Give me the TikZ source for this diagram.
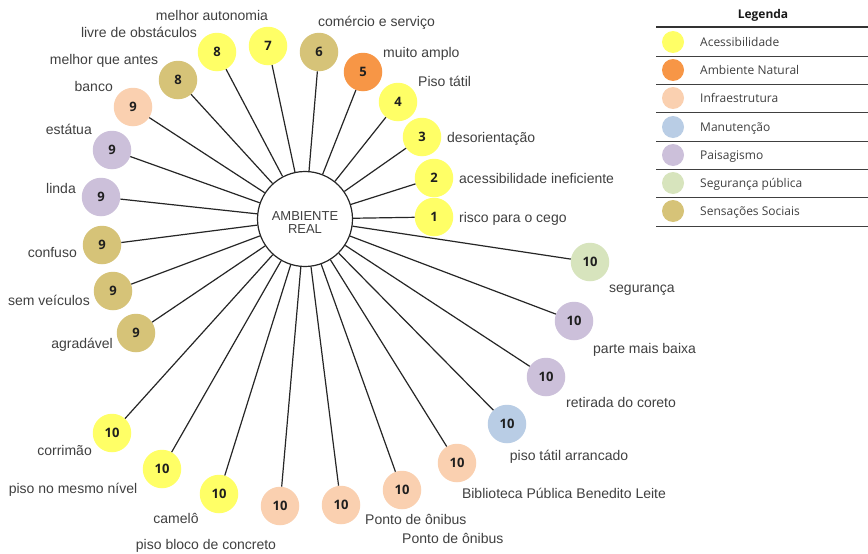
\documentclass[tikz,border=0pt]{standalone}
\usepackage{fontspec}
\setmainfont{Liberation Sans}
\newfontfamily\osans{Open Sans}
\definecolor{acc}{HTML}{FFFF66}
\definecolor{nat}{HTML}{F79646}
\definecolor{inf}{HTML}{FAD0B0}
\definecolor{man}{HTML}{B9CDE5}
\definecolor{pai}{HTML}{CCC0DA}
\definecolor{seg}{HTML}{D7E4BD}
\definecolor{soc}{HTML}{D6C378}
\definecolor{txt}{HTML}{404040}
\begin{document}
\begin{tikzpicture}[x=1pt,y=-1pt,
  cat/.style={circle,minimum size=38.5pt,inner sep=0pt,font=\osans\bfseries\fontsize{13}{13}\selectfont,text=black!88},
  lab/.style={inner sep=0pt,font=\fontsize{14}{16}\selectfont,text=txt},
  spoke/.style={draw=black!85,line width=1.2pt},
  legdot/.style={circle,minimum size=22pt,inner sep=0pt},
  legtxt/.style={inner sep=0pt,anchor=base west,font=\osans\fontsize{12}{14}\selectfont,text=txt},
  legrule/.style={draw=black!75,line width=0.9pt}]
\useasboundingbox (0,0) rectangle (868,554);
\fill[white] (0,0) rectangle (868,554);

% centre
\node[circle,draw=black!85,line width=1.2pt,minimum size=95pt,inner sep=0pt] (c) at (305,219) {};
\node[inner sep=0pt,align=center,font=\fontsize{13}{13}\selectfont,text=txt] (ct) at (305,223) {AMBIENTE\\REAL};

% category circles
\node[cat,fill=acc] (n1) at (434,217) {1};
\node[cat,fill=acc] (n2) at (434,178) {2};
\node[cat,fill=acc] (n3) at (422,137) {3};
\node[cat,fill=acc] (n4) at (398,102) {4};
\node[cat,fill=nat] (n5) at (363,72) {5};
\node[cat,fill=soc] (n6) at (319,52) {6};
\node[cat,fill=acc] (n7) at (268,46) {7};
\node[cat,fill=acc] (n8a) at (217,52) {8};
\node[cat,fill=soc] (n8b) at (178,80) {8};
\node[cat,fill=inf] (n9a) at (133,107) {9};
\node[cat,fill=pai] (n9b) at (112,150) {9};
\node[cat,fill=pai] (n9c) at (101,197) {9};
\node[cat,fill=soc] (n9d) at (102,245) {9};
\node[cat,fill=soc] (n9e) at (113,291) {9};
\node[cat,fill=soc] (n9f) at (136,333) {9};
\node[cat,fill=acc] (n10a) at (112,433) {10};
\node[cat,fill=acc] (n10b) at (162,469) {10};
\node[cat,fill=acc] (n10c) at (219,494) {10};
\node[cat,fill=inf] (n10d) at (280,506) {10};
\node[cat,fill=inf] (n10e) at (341,505) {10};
\node[cat,fill=inf] (n10f) at (402,490) {10};
\node[cat,fill=inf] (n10g) at (457,463) {10};
\node[cat,fill=man] (n10h) at (507,424) {10};
\node[cat,fill=pai] (n10i) at (546,377) {10};
\node[cat,fill=pai] (n10j) at (574,321) {10};
\node[cat,fill=seg] (n10k) at (590,262) {10};

\foreach \n in {n1,n2,n3,n4,n5,n6,n7,n8a,n8b,n9a,n9b,n9c,n9d,n9e,n9f,
  n10a,n10b,n10c,n10d,n10e,n10f,n10g,n10h,n10i,n10j,n10k}
  \draw[spoke] (c) -- (\n);

% labels
\node[lab,anchor=base west] (l1) at (459,222) {risco para o cego};
\node[lab,anchor=base west] (l2) at (459,183) {acessibilidade ineficiente};
\node[lab,anchor=base west] (l3) at (447,142) {desorientação};
\node[lab,anchor=base west] (l4) at (418,86) {Piso tátil};
\node[lab,anchor=base west] (l5) at (383,57) {muito amplo};
\node[lab,anchor=base west] (l6) at (318,27) {comércio e serviço};
\node[lab,anchor=base] (l7) at (212,20) {melhor autonomia};
\node[lab,anchor=base] (l8a) at (139,37) {livre de obstáculos};
\node[lab,anchor=base] (l8b) at (104,64) {melhor que antes};
\node[lab,anchor=base east] (l9a) at (113,91) {banco};
\node[lab,anchor=base east] (l9b) at (92,134) {estátua};
\node[lab,anchor=base east] (l9c) at (76,193) {linda};
\node[lab,anchor=base east] (l9d) at (77,257) {confuso};
\node[lab,anchor=base east] (l9e) at (90,305) {sem veículos};
\node[lab,anchor=base east] (l9f) at (113,348) {agradável};
\node[lab,anchor=base east] (l10a) at (92,455) {corrimão};
\node[lab,anchor=base] (l10b) at (73,493) {piso no mesmo nível};
\node[lab,anchor=base] (l10c) at (176,523) {camelô};
\node[lab,anchor=base] (l10d) at (206,549) {piso bloco de concreto};
\node[lab,anchor=base west] (l10e) at (365,524) {Ponto de ônibus};
\node[lab,anchor=base west] (l10f) at (402,543) {Ponto de ônibus};
\node[lab,anchor=base] (l10g) at (564,498) {Biblioteca Pública Benedito Leite};
\node[lab,anchor=base] (l10h) at (569,460) {piso tátil arrancado};
\node[lab,anchor=base west] (l10i) at (566,407) {retirada do coreto};
\node[lab,anchor=base west] (l10j) at (593,353) {parte mais baixa};
\node[lab,anchor=base west] (l10k) at (609,292) {segurança};

% legend
\node[inner sep=0pt,font=\osans\bfseries\fontsize{12}{14}\selectfont,text=black!90] (lg) at (763,15) {Legenda};
\draw[draw=black!80,line width=1.8pt] (656,27) -- (868,27);
\foreach \yy in {56,84,112,141,169,197,226}
  \draw[legrule] (656,\yy) -- (868,\yy);
\node[legdot,fill=acc] (d1) at (673,42) {};
\node[legtxt] (t1) at (700,46) {Acessibilidade};
\node[legdot,fill=nat] (d2) at (673,70) {};
\node[legtxt] (t2) at (700,74) {Ambiente Natural};
\node[legdot,fill=inf] (d3) at (673,98) {};
\node[legtxt] (t3) at (700,102) {Infraestrutura};
\node[legdot,fill=man] (d4) at (673,127) {};
\node[legtxt] (t4) at (700,131) {Manutenção};
\node[legdot,fill=pai] (d5) at (673,155) {};
\node[legtxt] (t5) at (700,159) {Paisagismo};
\node[legdot,fill=seg] (d6) at (673,183) {};
\node[legtxt] (t6) at (700,187) {Segurança pública};
\node[legdot,fill=soc] (d7) at (673,211) {};
\node[legtxt] (t7) at (700,215) {Sensações Sociais};
\end{tikzpicture}
\end{document}
